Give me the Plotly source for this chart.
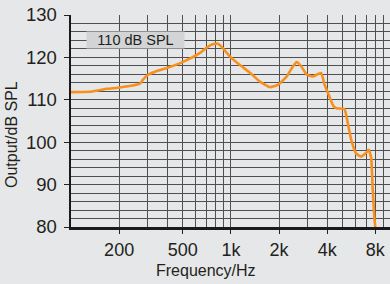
import plotly.graph_objects as go

# Frequency response
freq_hz = [100, 131, 168, 202, 270, 281, 303, 344, 397, 478, 553, 638, 716, 769, 828, 890, 986,
           1139, 1315, 1518, 1752, 1967, 2233, 2435, 2580, 2764, 2985, 3245, 3672, 3850, 4079,
           4381, 4575, 5133, 5383, 5653, 6072, 6525, 7012, 7278, 7534, 7709, 7899, 8000]
output_db = [111.8, 111.9, 112.6, 112.9, 113.8, 114.7, 115.9, 116.8, 117.5, 118.6, 119.7, 121.0,
             122.5, 123.1, 123.2, 122.2, 120.2, 118.2, 116.4, 114.3, 113.0, 113.5, 115.5, 117.8,
             118.9, 117.8, 115.9, 115.5, 116.3, 113.6, 111.3, 108.5, 108.0, 107.8, 104.5, 100.6,
             97.3, 96.6, 97.5, 98.2, 96.4, 88.8, 82.0, 80.0]

x_tick_vals = [200, 500, 1000, 2000, 4000, 8000]
x_tick_text = ["200", "500", "1k", "2k", "4k", "8k"]
x_minor_vals = [100, 200, 300, 400, 500, 600, 700, 800, 900,
                1000, 2000, 3000, 4000, 5000, 6000, 7000, 8000, 9000, 10000]
y_tick_vals = [80, 90, 100, 110, 120, 130]
level_label = "110 dB SPL"
x_title = "Frequency/Hz"
y_title = "Output/dB SPL"

BG = "#e6e7e8"
GRID = "#4f4f4f"
TXT = "#231f20"
FONT = "Liberation Sans, Arial, sans-serif"

fig = go.Figure()
fig.add_trace(go.Scatter(x=freq_hz, y=output_db, mode="lines",
                         line=dict(color="#f7901e", width=2.6, shape="spline", smoothing=0.4),
                         hoverinfo="skip", showlegend=False, cliponaxis=True))

fig.update_layout(
    width=390, height=284,
    margin=dict(l=71, r=0, t=15, b=57, autoexpand=False),
    paper_bgcolor=BG, plot_bgcolor=BG,
    font=dict(family=FONT, color=TXT),
    xaxis=dict(type="log", range=[2, 3.995],
               tickvals=x_tick_vals, ticktext=x_tick_text,
               tickfont=dict(size=18, color=TXT),
               ticks="outside", ticklen=4, tickcolor="#222", tickwidth=1,
               ticklabelstandoff=1, automargin=False,
               showgrid=True, gridcolor=GRID, gridwidth=1,
               minor=dict(tickvals=x_minor_vals, showgrid=True, gridcolor=GRID, gridwidth=1, ticks=""),
               showline=True, linecolor="#1a1a1a", linewidth=2.5,
               zeroline=False, fixedrange=True),
    yaxis=dict(range=[80, 130], tickvals=y_tick_vals,
               tickfont=dict(size=18.5, color=TXT),
               ticks="outside", ticklen=5, tickcolor="#222", tickwidth=1,
               ticklabelstandoff=3, automargin=False,
               showgrid=True, gridcolor=GRID, gridwidth=1,
               minor=dict(dtick=2, showgrid=True, gridcolor=GRID, gridwidth=1, ticks=""),
               showline=True, linecolor="#1a1a1a", linewidth=2.5,
               zeroline=False, fixedrange=True),
    annotations=[
        dict(text=level_label, xref="paper", yref="paper", x=0.2019, y=0.884,
             showarrow=False, bgcolor="#d3d4d6", width=97, height=16, borderpad=0,
             font=dict(size=14.5, color=TXT, family=FONT), xanchor="center", yanchor="middle"),
        dict(text=x_title, xref="paper", yref="paper", x=0.423, y=-0.205,
             showarrow=False, font=dict(size=16, color=TXT, family=FONT),
             xanchor="center", yanchor="middle"),
        dict(text=y_title, xref="paper", yref="paper", x=-0.185, y=0.4387,
             showarrow=False, textangle=-90, font=dict(size=16, color=TXT, family=FONT),
             xanchor="center", yanchor="middle"),
    ],
)

fig.write_html("out.html", config={"displayModeBar": False, "staticPlot": True},
               post_script="document.body.style.margin='0';document.body.style.background='#e6e7e8';")
